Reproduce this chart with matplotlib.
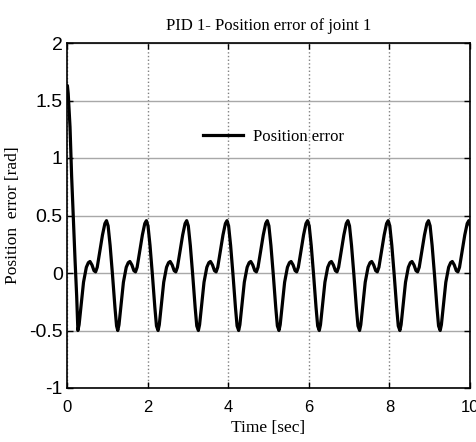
import numpy as np
import matplotlib
matplotlib.use('Agg')
import matplotlib.pyplot as plt

# start of the run: fast drop from the initial error
t_start = [0.0, 0.01, 0.03, 0.075, 0.115, 0.156, 0.20, 0.24]
e_start = [1.62, 1.63, 1.56, 1.27, 0.84, 0.49, 0.11, -0.20]

# one oscillation, offsets from each minimum
cycle_dt = [0.00, 0.03, 0.08, 0.14, 0.21, 0.26, 0.30, 0.35, 0.40, 0.44,
            0.48, 0.54, 0.61, 0.67, 0.71, 0.75, 0.80, 0.86, 0.92, 0.96]
cycle_e = [-0.50, -0.45, -0.28, -0.08, 0.05, 0.09, 0.10, 0.07, 0.02, 0.01,
           0.05, 0.18, 0.33, 0.43, 0.455, 0.41, 0.24, -0.02, -0.30, -0.46]
# time of each minimum
minima = [0.27, 1.26, 2.26, 3.26, 4.26, 5.26, 6.26, 7.26, 8.26, 9.26]

t = list(t_start)
e = list(e_start)
for m in minima:
    for dt, v in zip(cycle_dt, cycle_e):
        t.append(m + dt)
        e.append(v)

xticks = [0, 2, 4, 6, 8, 10]
yticks = [-1, -0.5, 0, 0.5, 1, 1.5, 2]
ylabels = ['-1', '-0.5', '0', '0.5', '1', '1.5', '2']

serif = 'Liberation Serif'
sans = 'Liberation Sans'

fig = plt.figure(figsize=(4.77, 4.42), dpi=100)
ax = fig.add_axes([67/477, 54/442, 403/477, 345/442])

ax.plot(t, e, color='black', linewidth=2.3, label='Position error')

ax.set_xlim(0, 10)
ax.set_ylim(-1, 2)
ax.set_xticks(xticks)
ax.set_xticklabels([str(x) for x in xticks], fontfamily=sans, fontsize=12)
ax.set_yticks(yticks)
ax.set_yticklabels(ylabels, fontfamily=sans, fontsize=14)
ax.tick_params(direction='in', top=True, right=True, length=4, width=1)
ax.tick_params(axis='x', pad=9)
ax.tick_params(axis='y', pad=3)

ax.grid(axis='y', color='#a8a8a8', linestyle='-', linewidth=1)
ax.grid(axis='x', color='#808080', linestyle=':', linewidth=1)
ax.set_axisbelow(True)
for s in ax.spines.values():
    s.set_linewidth(1.2)

ax.set_title('PID 1- Position error of joint 1', fontfamily=serif, fontsize=12, pad=9)
ax.set_xlabel('Time [sec]', fontfamily=serif, fontsize=12.5, labelpad=3)
ax.set_ylabel('Position  error [rad]', fontfamily=serif, fontsize=12.5, labelpad=6)

ax.legend(loc='center left', bbox_to_anchor=(0.3375, 0.7275), frameon=False,
          prop={'family': serif, 'size': 12}, handlelength=2.4,
          handletextpad=0.6, borderpad=0, borderaxespad=0)

fig.savefig('out.png', dpi=100)
